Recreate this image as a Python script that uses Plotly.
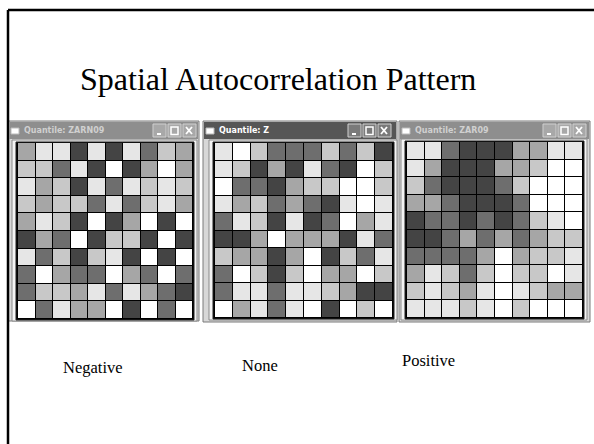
import plotly.graph_objects as go

# Quantile classes 0 (darkest) .. 5 (white), rows listed top to bottom
negative = [
    [2, 4, 4, 0, 4, 0, 4, 1, 3, 2],
    [3, 3, 1, 4, 0, 5, 0, 2, 5, 2],
    [4, 2, 3, 0, 4, 1, 4, 3, 4, 3],
    [3, 2, 3, 3, 1, 4, 1, 3, 4, 2],
    [2, 4, 3, 0, 5, 0, 2, 5, 0, 5],
    [0, 2, 1, 5, 0, 3, 3, 0, 5, 0],
    [4, 1, 3, 0, 3, 4, 0, 5, 0, 5],
    [1, 5, 2, 1, 1, 5, 2, 1, 5, 1],
    [1, 3, 3, 2, 4, 1, 4, 2, 1, 0],
    [5, 1, 4, 2, 2, 5, 0, 5, 1, 5],
]
none = [
    [4, 5, 3, 1, 1, 1, 3, 1, 3, 0],
    [4, 3, 0, 2, 0, 4, 1, 0, 5, 3],
    [5, 1, 1, 0, 2, 3, 3, 5, 5, 3],
    [4, 2, 3, 1, 2, 1, 0, 4, 5, 4],
    [1, 4, 3, 0, 4, 0, 1, 5, 2, 4],
    [0, 0, 2, 5, 2, 2, 2, 0, 4, 1],
    [3, 2, 2, 0, 2, 5, 0, 3, 1, 4],
    [1, 5, 3, 0, 3, 5, 2, 2, 5, 3],
    [1, 4, 4, 1, 4, 4, 3, 2, 0, 0],
    [5, 2, 4, 1, 4, 5, 0, 5, 3, 5],
]
positive = [
    [4, 4, 1, 0, 0, 0, 2, 2, 4, 4],
    [4, 2, 0, 0, 0, 2, 2, 3, 5, 5],
    [3, 1, 0, 0, 0, 1, 3, 5, 5, 5],
    [2, 2, 1, 0, 0, 0, 1, 5, 5, 5],
    [0, 1, 1, 0, 1, 0, 1, 3, 4, 5],
    [0, 0, 1, 2, 1, 2, 1, 2, 3, 3],
    [1, 1, 1, 1, 2, 5, 2, 3, 3, 4],
    [2, 4, 3, 1, 3, 5, 3, 3, 5, 4],
    [3, 4, 3, 2, 4, 5, 4, 3, 2, 2],
    [4, 4, 4, 3, 4, 5, 3, 5, 5, 5],
]
grids = [negative, none, positive]
window_titles = ["Quantile: ZARN09", "Quantile: Z", "Quantile: ZAR09"]
labels = ["Negative", "None", "Positive"]
title = "Spatial Autocorrelation Pattern"
class_colors = ["#444444", "#6e6e6e", "#a6a6a6", "#c8c8c8", "#e6e6e6", "#ffffff"]

W, H = 594, 444
def px(x):
    return x / W
def py(y):
    return 1 - y / H

# window geometry (pixels)
windows = [
    dict(x0=8, x1=199, y0=121, y1=321, gx0=18, gx1=193, gy0=143, gy1=319, active=False, bx=153),
    dict(x0=203, x1=397, y0=121, y1=322, gx0=215, gx1=393, gy0=143, gy1=318, active=True, bx=348),
    dict(x0=399, x1=590, y0=121, y1=322, gx0=407, gx1=583, gy0=142, gy1=318, active=False, bx=543),
]

n = len(class_colors)
cs = []
for i, c in enumerate(class_colors):
    cs.append([i / n, c])
    cs.append([(i + 1) / n, c])

fig = go.Figure()
shapes = []
annotations = []

# slide frame
shapes.append(dict(type="line", xref="paper", yref="paper", x0=px(8), x1=px(W), y0=py(10), y1=py(10),
                   line=dict(color="black", width=2.5)))
shapes.append(dict(type="line", xref="paper", yref="paper", x0=px(8), x1=px(8), y0=py(10), y1=py(H),
                   line=dict(color="black", width=2.5)))

for k, (g, w) in enumerate(zip(grids, windows)):
    ax = "" if k == 0 else str(k + 1)
    fig.add_trace(go.Heatmap(z=g, x=list(range(10)), y=list(range(10)), colorscale=cs,
                             zmin=-0.5, zmax=n - 0.5, showscale=False, xgap=1, ygap=1,
                             hoverinfo="skip", xaxis="x" + ax, yaxis="y" + ax))
    fig.update_layout(**{
        "xaxis" + ax: dict(domain=[px(w["gx0"]), px(w["gx1"])], visible=False, range=[-0.5, 9.5],
                           anchor="y" + ax, fixedrange=True),
        "yaxis" + ax: dict(domain=[py(w["gy1"]), py(w["gy0"])], visible=False, range=[9.5, -0.5],
                           anchor="x" + ax, fixedrange=True),
    })
    # window body
    shapes.append(dict(type="rect", xref="paper", yref="paper", layer="below",
                       x0=px(w["x0"]), x1=px(w["x1"]), y0=py(w["y1"]), y1=py(w["y0"]),
                       fillcolor="#d8d8d8", line=dict(color="#7a7a7a", width=1)))
    # inner white frame
    shapes.append(dict(type="rect", xref="paper", yref="paper", layer="below",
                       x0=px(w["gx0"] - 6), x1=px(w["gx1"] + 4), y0=py(w["gy1"] + 2), y1=py(w["gy0"] - 3),
                       fillcolor="#f4f4f4", line=dict(color="#8a8a8a", width=1)))
    shapes.append(dict(type="rect", xref="paper", yref="paper", layer="below",
                       x0=px(w["gx0"] - 2), x1=px(w["gx1"] + 1), y0=py(w["gy1"] + 1), y1=py(w["gy0"] - 1),
                       fillcolor="#000000", line=dict(color="#222222", width=1)))
    # title bar
    tb = "#565656" if w["active"] else "#8e8e8e"
    tc = "#ffffff" if w["active"] else "#d0d0d0"
    shapes.append(dict(type="rect", xref="paper", yref="paper",
                       x0=px(w["x0"] + 1), x1=px(w["x1"] - 1), y0=py(w["y0"] + 18), y1=py(w["y0"] + 1),
                       fillcolor=tb, line=dict(width=0)))
    # icon
    shapes.append(dict(type="rect", xref="paper", yref="paper",
                       x0=px(w["x0"] + 3), x1=px(w["x0"] + 11), y0=py(w["y0"] + 13), y1=py(w["y0"] + 7),
                       fillcolor="#ffffff", line=dict(color="#bbbbbb", width=1)))
    annotations.append(dict(xref="paper", yref="paper", x=px(w["x0"] + 14), y=py(w["y0"] + 9.5),
                            text="<b>" + window_titles[k] + "</b>", showarrow=False, xanchor="left",
                            yanchor="middle", font=dict(family="DejaVu Sans", size=8, color=tc)))
    # buttons
    bcol = "#7a7a7a" if w["active"] else "#a8a8a8"
    for b in range(3):
        bx0 = w["bx"] + b * 15
        shapes.append(dict(type="rect", xref="paper", yref="paper",
                           x0=px(bx0), x1=px(bx0 + 13), y0=py(w["y0"] + 16), y1=py(w["y0"] + 3),
                           fillcolor=bcol, line=dict(color="#d0d0d0", width=1)))
    b0 = w["bx"]
    shapes.append(dict(type="line", xref="paper", yref="paper", x0=px(b0 + 4), x1=px(b0 + 8),
                       y0=py(w["y0"] + 13), y1=py(w["y0"] + 13), line=dict(color="white", width=2)))
    shapes.append(dict(type="rect", xref="paper", yref="paper", x0=px(b0 + 18), x1=px(b0 + 25),
                       y0=py(w["y0"] + 13.5), y1=py(w["y0"] + 6), line=dict(color="white", width=1.5)))
    shapes.append(dict(type="line", xref="paper", yref="paper", x0=px(b0 + 33), x1=px(b0 + 39),
                       y0=py(w["y0"] + 13), y1=py(w["y0"] + 6), line=dict(color="white", width=1.8)))
    shapes.append(dict(type="line", xref="paper", yref="paper", x0=px(b0 + 33), x1=px(b0 + 39),
                       y0=py(w["y0"] + 6), y1=py(w["y0"] + 13), line=dict(color="white", width=1.8)))

# title and labels
annotations.append(dict(xref="paper", yref="paper", x=px(278), y=py(79), text=title, showarrow=False,
                        xanchor="center", yanchor="middle",
                        font=dict(family="Liberation Serif", size=32, color="black")))
for lab, (lx, ly) in zip(labels, [(93, 367), (260, 365), (428, 360)]):
    annotations.append(dict(xref="paper", yref="paper", x=px(lx), y=py(ly), text=lab, showarrow=False,
                            xanchor="center", yanchor="middle",
                            font=dict(family="Liberation Serif", size=16.5, color="black")))

fig.update_layout(width=W, height=H, margin=dict(l=0, r=0, t=0, b=0), paper_bgcolor="white",
                  plot_bgcolor="black", shapes=shapes, annotations=annotations, showlegend=False)
fig.write_html("out.html", config={"displayModeBar": False},
               post_script="document.body.style.margin='0';document.body.style.overflow='hidden';")
